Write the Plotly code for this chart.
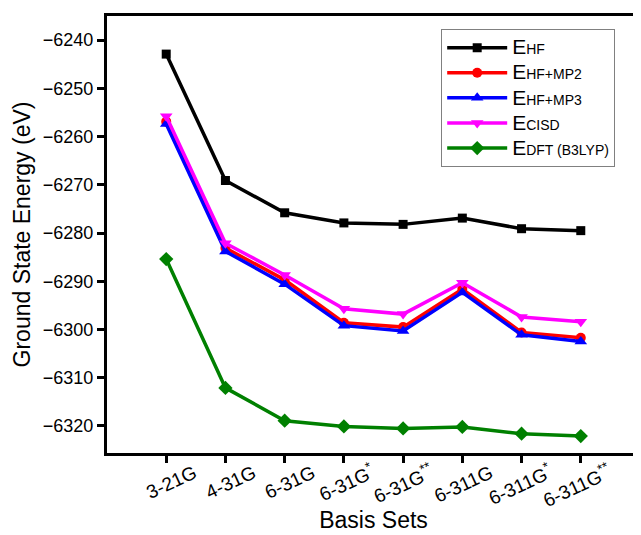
import plotly.graph_objects as go

basis_sets = ["3-21G", "4-31G", "6-31G", "6-31G*", "6-31G**", "6-311G", "6-311G*", "6-311G**"]
tick_labels = ["3-21G", "4-31G", "6-31G", "6-31G<sup>*</sup>", "6-31G<sup>**</sup>",
               "6-311G", "6-311G<sup>*</sup>", "6-311G<sup>**</sup>"]

e_hf = [-6242.9, -6269.1, -6275.8, -6277.9, -6278.2, -6276.9, -6279.1, -6279.5]
e_mp2 = [-6256.9, -6283.1, -6289.7, -6298.6, -6299.5, -6291.6, -6300.6, -6301.7]
e_mp3 = [-6257.4, -6283.8, -6290.6, -6299.2, -6300.3, -6292.3, -6301.1, -6302.5]
e_cisd = [-6255.8, -6282.1, -6288.7, -6295.7, -6296.8, -6290.3, -6297.4, -6298.4]
e_dft = [-6285.4, -6312.1, -6318.9, -6320.1, -6320.5, -6320.2, -6321.6, -6322.1]

big = "<span style='font-size:21px'>E</span>"
sub = "<span style='font-size:14px'>{}</span>"
series = [
    (big + sub.format("HF"), e_hf, "#000000", "square", 9),
    (big + sub.format("HF+MP2"), e_mp2, "#ff0000", "circle", 10),
    (big + sub.format("HF+MP3"), e_mp3, "#0000ff", "triangle-up", 11),
    (big + sub.format("CISD"), e_cisd, "#ff00ff", "triangle-down", 11),
    (big + sub.format("DFT (B3LYP)"), e_dft, "#008000", "diamond", 11),
]

x_idx = list(range(len(basis_sets)))

fig = go.Figure()
for i, (name, vals, color, sym, size) in enumerate(series):
    fig.add_trace(go.Scatter(
        x=x_idx, y=vals, name=name, mode="lines+markers",
        line=dict(color=color, width=3.5),
        marker=dict(symbol=sym, size=size, color=color),
        legendgroup=f"g{i}",
    ))

fig.update_layout(
    width=641, height=535,
    margin=dict(l=99, r=9, t=8, b=90),
    paper_bgcolor="white", plot_bgcolor="white",
    font=dict(family="Liberation Sans, Arial, sans-serif", color="black"),
    showlegend=True,
    legend=dict(
        x=0.627, y=0.970, xanchor="left", yanchor="top",
        bordercolor="#808080", borderwidth=1, bgcolor="white",
        font=dict(size=17, color="black"),
        tracegroupgap=0, itemwidth=60,
    ),
)

fig.update_xaxes(
    range=[-1, 8], tickmode="array", tickvals=x_idx, ticktext=tick_labels,
    tickangle=-25, tickfont=dict(size=19), ticklabelshift=28, ticklabelstandoff=-8,
    showline=True, linecolor="black", linewidth=3, mirror=True,
    ticks="outside", ticklen=7, tickwidth=3, tickcolor="black",
    showgrid=False, zeroline=False, automargin=False,
    title=dict(text="Basis Sets", font=dict(size=23), standoff=2),
)
fig.update_yaxes(
    range=[-6325.6, -6235.0], tickmode="array",
    tickvals=[-6320, -6310, -6300, -6290, -6280, -6270, -6260, -6250, -6240],
    tickfont=dict(size=18),
    showline=True, linecolor="black", linewidth=3, mirror=True,
    ticks="outside", ticklen=7, tickwidth=3, tickcolor="black",
    showgrid=False, zeroline=False, automargin=False,
    title=dict(text="Ground State Energy (eV)", font=dict(size=23), standoff=6),
)

fig.write_html("out.html")
